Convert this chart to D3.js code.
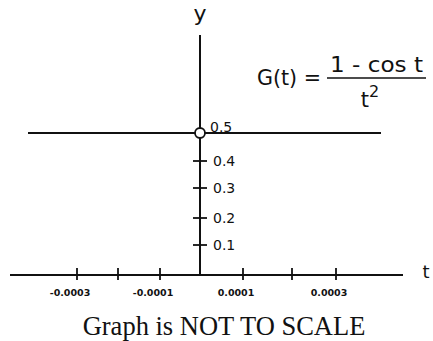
<!DOCTYPE html>
<html>
<head>
<meta charset="utf-8">
<script src="https://cdn.jsdelivr.net/npm/d3@7"></script>
<style>
  html, body { margin: 0; padding: 0; background: #fff; }
  svg { display: block; }
</style>
</head>
<body>
<div id="chart"></div>
<script>
// "Not to scale" graph of G(t) = (1 - cos t) / t^2 near t = 0
const tTicks = [-0.0004, -0.0003, -0.0002, -0.0001, 0, 0.0001, 0.0002, 0.0003, 0.0004];
const tLabels = ['', '-0.0003', '', '-0.0001', '', '0.0001', '', '0.0003', ''];
const yTicks = [0, 0.1, 0.2, 0.3, 0.4, 0.5];
const yLabels = ['', '0.1', '0.2', '0.3', '0.4', '0.5'];
// G(t) stays at 0.5 over this range, with a hole at t = 0
const seriesT = [-0.0004, 0.0004];
const seriesG = [0.5, 0.5];
const holeT = 0;
const holeG = 0.5;

const width = 433, height = 341;
const svg = d3.select('#chart').append('svg')
    .attr('width', width)
    .attr('height', height);

// piecewise scales, the drawing is not to scale
const x = d3.scaleLinear()
    .domain(tTicks)
    .range([28, 77, 118, 160, 200, 243, 292, 336, 381]);
const y = d3.scaleLinear()
    .domain(yTicks)
    .range([275, 245, 218, 188, 161, 133]);

const ink = '#111';

// x axis line
svg.append('line')
    .attr('x1', x(-0.0004) - 18).attr('x2', x(0.0004) + 22)
    .attr('y1', y(0)).attr('y2', y(0))
    .attr('stroke', ink).attr('stroke-width', 2);

// y axis line
svg.append('line')
    .attr('x1', x(0)).attr('x2', x(0))
    .attr('y1', 35).attr('y2', y(0))
    .attr('stroke', ink).attr('stroke-width', 2);

// x ticks (skip the ends and zero)
const xt = tTicks.map((d, i) => ({t: d, label: tLabels[i]}))
    .filter(d => d.t !== 0 && Math.abs(d.t) < 0.00035);
svg.selectAll('.xtick').data(xt).enter().append('line')
    .attr('class', 'xtick')
    .attr('x1', d => x(d.t)).attr('x2', d => x(d.t))
    .attr('y1', y(0) - 7).attr('y2', y(0) + 5)
    .attr('stroke', ink).attr('stroke-width', 1.8);
svg.selectAll('.xlab').data(xt.filter(d => d.label)).enter().append('text')
    .attr('class', 'xlab')
    .attr('x', d => x(d.t) - 7)
    .attr('y', y(0) + 21)
    .attr('text-anchor', 'middle')
    .attr('font-family', 'DejaVu Sans, sans-serif')
    .attr('font-size', '9.5px')
    .attr('font-weight', 'bold')
    .attr('fill', ink)
    .text(d => d.label);

// y ticks
const yt = yTicks.map((d, i) => ({v: d, label: yLabels[i]}))
    .filter(d => d.v > 0 && d.v < 0.5);
svg.selectAll('.ytick').data(yt).enter().append('line')
    .attr('class', 'ytick')
    .attr('x1', x(0) - 7).attr('x2', x(0) + 7)
    .attr('y1', d => y(d.v)).attr('y2', d => y(d.v))
    .attr('stroke', ink).attr('stroke-width', 1.8);
svg.selectAll('.ylab').data(yt).enter().append('text')
    .attr('class', 'ylab')
    .attr('x', x(0) + 13)
    .attr('y', d => y(d.v) + 5)
    .attr('font-family', 'DejaVu Sans, sans-serif')
    .attr('font-size', '14px')
    .attr('fill', ink)
    .text(d => d.label);

// the G(t) = 0.5 line
const line = d3.line()
    .x(d => x(d[0]))
    .y(d => y(d[1]));
svg.append('path')
    .datum(seriesT.map((t, i) => [t, seriesG[i]]))
    .attr('d', line)
    .attr('fill', 'none')
    .attr('stroke', ink)
    .attr('stroke-width', 2);

// open circle at t = 0
svg.append('circle')
    .attr('cx', x(holeT)).attr('cy', y(holeG))
    .attr('r', 5)
    .attr('fill', '#fff')
    .attr('stroke', ink)
    .attr('stroke-width', 1.8);

// label for the 0.5 level sits above the line
svg.append('text')
    .attr('x', x(0) + 10)
    .attr('y', y(holeG) - 1)
    .attr('font-family', 'DejaVu Sans, sans-serif')
    .attr('font-size', '14px')
    .attr('fill', ink)
    .text(yLabels[5]);

// axis names
svg.append('text')
    .attr('x', x(0))
    .attr('y', 21)
    .attr('text-anchor', 'middle')
    .attr('font-family', 'DejaVu Sans, sans-serif')
    .attr('font-size', '22px')
    .attr('fill', ink)
    .text('y');
svg.append('text')
    .attr('x', 426)
    .attr('y', 278)
    .attr('text-anchor', 'middle')
    .attr('font-family', 'DejaVu Sans, sans-serif')
    .attr('font-size', '18px')
    .attr('fill', ink)
    .text('t');

// formula, narrow tall lettering
const f = svg.append('g')
    .attr('font-family', 'DejaVu Sans, sans-serif')
    .attr('fill', ink);
f.append('text')
    .attr('x', 257).attr('y', 85)
    .attr('font-size', '21px')
    .attr('textLength', 64)
    .attr('lengthAdjust', 'spacingAndGlyphs')
    .text('G(t) =');
f.append('line')
    .attr('x1', 327).attr('x2', 426)
    .attr('y1', 78).attr('y2', 78)
    .attr('stroke', ink).attr('stroke-width', 1.5);
f.append('text')
    .attr('x', 330).attr('y', 72)
    .attr('font-size', '21px')
    .attr('textLength', 93)
    .attr('lengthAdjust', 'spacingAndGlyphs')
    .text('1 - cos t');
const den = f.append('text')
    .attr('x', 370).attr('y', 107)
    .attr('text-anchor', 'middle')
    .attr('font-size', '21px');
den.append('tspan').text('t');
den.append('tspan').attr('dy', -10).attr('font-size', '16px').text('2');

// caption
svg.append('text')
    .attr('x', 224)
    .attr('y', 335)
    .attr('text-anchor', 'middle')
    .attr('font-family', 'Liberation Serif, Times New Roman, serif')
    .attr('font-size', '26.5px')
    .attr('fill', ink)
    .text('Graph is NOT TO SCALE');
</script>
</body>
</html>
